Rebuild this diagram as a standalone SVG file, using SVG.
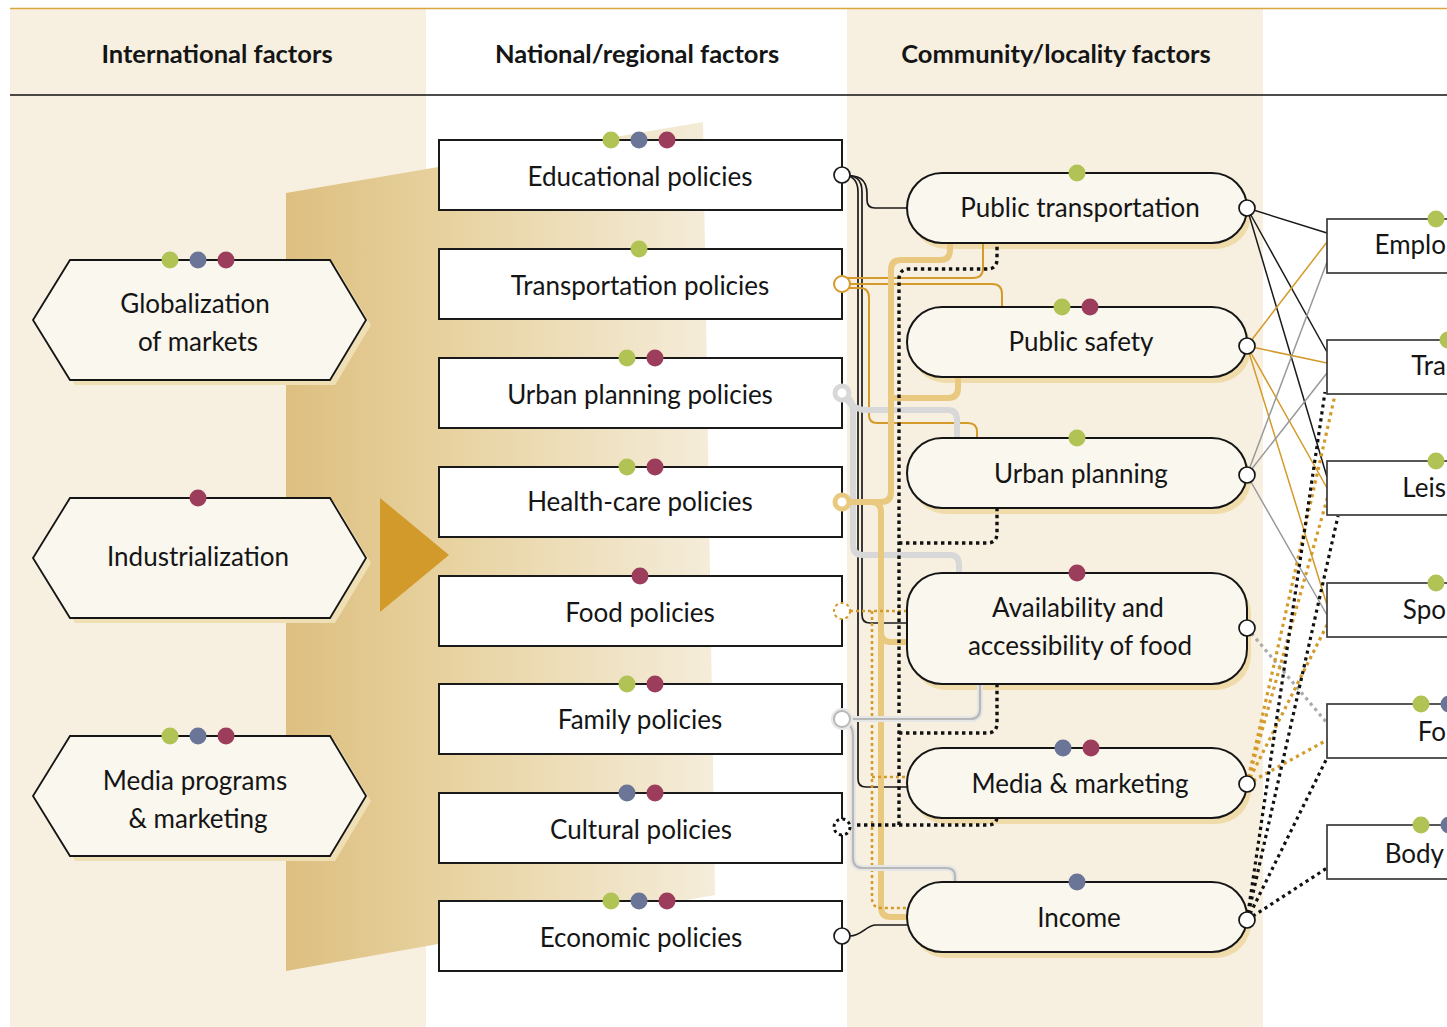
<svg xmlns="http://www.w3.org/2000/svg" width="1447" height="1027" viewBox="0 0 1447 1027">
<defs>
<style>
text{font-family:Lato,"Open Sans","Liberation Sans",sans-serif;fill:#151515;}
.hd{font-size:25.5px;font-weight:bold;text-anchor:middle;}
.lb{font-size:26px;text-anchor:middle;}
.lbs{font-size:26px;text-anchor:end;}
.hex{fill:#faf7ef;stroke:#151515;stroke-width:1.8;}
.hexsh{fill:#efdfb4;}
.nat{fill:#ffffff;stroke:#1a1a1a;stroke-width:2;}
.com{fill:#faf7ef;stroke:#151515;stroke-width:2;}
.comsh{fill:#efdcaa;}
.rbox{fill:#ffffff;stroke:#3a3a3a;stroke-width:1.7;}
.g{fill:#b1c355;}
.b{fill:#6a7597;}
.r{fill:#9c3d5b;}
.c{fill:none;}
.blk{stroke:#1a1a1a;stroke-width:1.7;}
.org{stroke:#d49a2a;stroke-width:2;}
.gry{stroke:#d8d8d8;stroke-width:6;}
.tan{stroke:#e9c97f;stroke-width:6;}
.odot{stroke:#d49a2a;stroke-width:2.5;stroke-dasharray:3 3;}
.kdot{stroke:#111;stroke-width:3.4;stroke-dasharray:3.4 3.6;}
.famh{stroke:#e6e6e6;stroke-width:6;}
.fam{stroke:#b8b8b8;stroke-width:2.2;}
.rk{stroke:#1a1a1a;stroke-width:1.5;}
.ro{stroke:#d49a2a;stroke-width:1.5;}
.rg{stroke:#999;stroke-width:1.5;}
.rgd{stroke:#aaa;stroke-width:3.2;stroke-dasharray:3.2 3.8;}
.rod{stroke:#d49a2a;stroke-width:3.2;stroke-dasharray:3.2 3.8;}
.rkd{stroke:#111;stroke-width:3.2;stroke-dasharray:3.2 3.8;}
.port{fill:#ffffff;}
</style>
<linearGradient id="grad" x1="0" y1="0" x2="1" y2="0">
<stop offset="0" stop-color="#ddbf80"/>
<stop offset="0.4" stop-color="#e8d3a1"/>
<stop offset="1" stop-color="#f5eddb"/>
</linearGradient>
</defs>

<!-- backgrounds -->
<rect x="0" y="0" width="1447" height="1027" fill="#ffffff"/>
<rect x="10" y="8" width="416" height="1019" fill="#f7f0e1"/>
<rect x="847" y="8" width="416" height="1019" fill="#f7f0e1"/>
<line x1="10" y1="8.5" x2="1447" y2="8.5" stroke="#d9a640" stroke-width="1.5"/>
<line x1="10" y1="95" x2="1447" y2="95" stroke="#111" stroke-width="1.5"/>
<polygon points="286,193 703,122 715,895 286,971" fill="url(#grad)"/>
<polygon points="380,498 449,555 380,612" fill="#d19a2a"/>

<text class="hd" x="217" y="63">International factors</text>
<text class="hd" x="637" y="63">National/regional factors</text>
<text class="hd" x="1056" y="63">Community/locality factors</text>

<!-- international nodes -->
<g id="globalization">
<polygon class="hexsh" points="38,325 75,265 335,265 371,325 335,385 75,385"/>
<polygon class="hex" points="33,320 70,260 330,260 366,320 330,380 70,380"/>
<circle class="g" cx="170" cy="260" r="8.5"/><circle class="b" cx="198" cy="260" r="8.5"/><circle class="r" cx="226" cy="260" r="8.5"/>
<text class="lb" x="195" y="313">Globalization</text>
<text class="lb" x="198" y="351">of markets</text>
</g>
<g id="industrialization">
<polygon class="hexsh" points="38,563 75,503 335,503 371,563 335,623 75,623"/>
<polygon class="hex" points="33,558 70,498 330,498 366,558 330,618 70,618"/>
<circle class="r" cx="198" cy="498" r="8.5"/>
<text class="lb" x="198" y="566">Industrialization</text>
</g>
<g id="media-programs">
<polygon class="hexsh" points="38,801 75,741 335,741 371,801 335,861 75,861"/>
<polygon class="hex" points="33,796 70,736 330,736 366,796 330,856 70,856"/>
<circle class="g" cx="170" cy="736" r="8.5"/><circle class="b" cx="198" cy="736" r="8.5"/><circle class="r" cx="226" cy="736" r="8.5"/>
<text class="lb" x="195" y="790">Media programs</text>
<text class="lb" x="198" y="828">&amp; marketing</text>
</g>

<!-- shadows of community nodes -->
<g id="community-shadows">
<rect class="comsh" x="911" y="179" width="340" height="70" rx="35"/>
<rect class="comsh" x="911" y="313" width="340" height="70" rx="35"/>
<rect class="comsh" x="911" y="444" width="340" height="70" rx="35"/>
<rect class="comsh" x="911" y="579" width="340" height="111" rx="35"/>
<rect class="comsh" x="911" y="754" width="340" height="70" rx="35"/>
<rect class="comsh" x="911" y="888" width="340" height="70" rx="35"/>
</g>

<!-- connectors -->
<g id="connectors" class="c">
<!-- educational -->
<path class="c blk" d="M842,175 C858,175 867,178 867,194 V200 Q867,208 875,208 H907"/>
<path class="c blk" d="M842,175 C856,175 862,179 862,192 V615 Q862,623 870,623 H907"/>
<path class="c blk" d="M842,175 C852,175 858,180 858,192 V779 Q858,787 866,787 H907"/>
<!-- transportation policies -->
<path class="c org" d="M846,278 H973 Q983,278 983,268 V243"/>
<path class="c org" d="M846,284 H992 Q1002,284 1002,294 V307"/>
<path class="c org" d="M846,288 H860 Q869,288 869,298 V415 Q869,423 877,423 H968 Q977,423 977,432 V438"/>
<!-- urban planning policies -->
<path class="c gry" d="M842,393 Q852,410 866,410 H948 Q957,410 957,420 V438"/>
<path class="c gry" d="M842,393 Q853,398 853,412 V545 Q853,555 863,555 H950 Q959,555 959,565 V573"/>
<!-- health-care policies -->
<path class="c tan" d="M950,243 V250 Q950,260 940,260 H901 Q891,260 891,270 V492 Q891,502 881,502 H842"/>
<path class="c tan" d="M958,377 V388 Q958,398 948,398 H891"/>
<path class="c tan" d="M842,502 H871 Q881,502 881,512 V907 Q881,917 891,917 H907"/>
<path class="c tan" d="M881,632 Q881,642 891,642 H907"/>
<!-- food policies -->
<path class="c odot" d="M850,611 H907"/>
<path class="c odot" d="M872,611 V898 Q872,908 882,908 H907"/>
<path class="c odot" d="M872,777 H907"/>
<!-- cultural policies -->
<path class="c kdot" d="M850,825 H988 Q997,825 997,816"/>
<path class="c kdot" d="M899,825 V279 Q899,269 909,269 H987 Q997,269 997,259 V243"/>
<path class="c kdot" d="M899,543 H987 Q997,543 997,533 V508"/>
<path class="c kdot" d="M899,733 H987 Q997,733 997,723 V684"/>
<!-- family policies -->
<path class="c famh" d="M850,719 H970 Q980,719 980,709 V684"/>
<path class="c famh" d="M842,719 Q853,724 853,735 V858 Q853,868 863,868 H946 Q955,868 955,876 V882"/>
<path class="c fam" d="M850,719 H970 Q980,719 980,709 V684"/>
<path class="c fam" d="M842,719 Q853,724 853,735 V858 Q853,868 863,868 H946 Q955,868 955,876 V882"/>
<!-- economic policies -->
<path class="c blk" d="M850,936 C862,936 866,925 876,925 H907"/>
<!-- right side -->
<path class="c rk" d="M1247,208 L1327,233 M1247,208 L1327,352 M1247,208 L1327,477"/>
<path class="c ro" d="M1247,346 L1327,242 M1247,346 L1327,363 M1247,346 L1327,488 M1247,346 L1327,605"/>
<path class="c rg" d="M1247,475 L1327,262 M1247,475 L1327,373 M1247,475 L1327,615"/>
<path class="c rgd" d="M1247,628 L1327,723"/>
<path class="c rod" d="M1247,784 L1335,395 M1247,784 L1329,492 M1247,784 L1327,625 M1247,784 L1327,740"/>
<path class="c rkd" d="M1247,920 L1325,392 M1247,920 L1338,516 M1247,920 L1327,758 M1247,920 L1327,868"/>
</g>

<!-- national nodes -->
<g id="educational-policies">
<rect class="nat" x="439" y="140" width="403" height="70"/>
<circle class="g" cx="611" cy="140" r="8.5"/><circle class="b" cx="639" cy="140" r="8.5"/><circle class="r" cx="667" cy="140" r="8.5"/>
<text class="lb" x="640" y="186">Educational policies</text>
<circle class="port" cx="842" cy="175" r="8" stroke="#1a1a1a" stroke-width="1.7"/>
</g>
<g id="transportation-policies">
<rect class="nat" x="439" y="249" width="403" height="70"/>
<circle class="g" cx="639" cy="249" r="8.5"/>
<text class="lb" x="640" y="295">Transportation policies</text>
<circle class="port" cx="842" cy="284" r="8" stroke="#d49a2a" stroke-width="2"/>
</g>
<g id="urban-planning-policies">
<rect class="nat" x="439" y="358" width="403" height="70"/>
<circle class="g" cx="627" cy="358" r="8.5"/><circle class="r" cx="655" cy="358" r="8.5"/>
<text class="lb" x="640" y="404">Urban planning policies</text>
<circle class="port" cx="842" cy="393" r="7" stroke="#d8d8d8" stroke-width="5"/>
</g>
<g id="health-care-policies">
<rect class="nat" x="439" y="467" width="403" height="70"/>
<circle class="g" cx="627" cy="467" r="8.5"/><circle class="r" cx="655" cy="467" r="8.5"/>
<text class="lb" x="640" y="511">Health-care policies</text>
<circle class="port" cx="842" cy="502" r="7" stroke="#e9c97f" stroke-width="5"/>
</g>
<g id="food-policies">
<rect class="nat" x="439" y="576" width="403" height="70"/>
<circle class="r" cx="640" cy="576" r="8.5"/>
<text class="lb" x="640" y="622">Food policies</text>
<circle class="port" cx="842" cy="611" r="8" stroke="#d49a2a" stroke-width="2" stroke-dasharray="3 3"/>
</g>
<g id="family-policies">
<rect class="nat" x="439" y="684" width="403" height="70"/>
<circle class="g" cx="627" cy="684" r="8.5"/><circle class="r" cx="655" cy="684" r="8.5"/>
<text class="lb" x="640" y="729">Family policies</text>
<circle cx="842" cy="719" r="9" fill="none" stroke="#e6e6e6" stroke-width="4"/>
<circle class="port" cx="842" cy="719" r="8" stroke="#b8b8b8" stroke-width="2"/>
</g>
<g id="cultural-policies">
<rect class="nat" x="439" y="793" width="403" height="70"/>
<circle class="b" cx="627" cy="793" r="8.5"/><circle class="r" cx="655" cy="793" r="8.5"/>
<text class="lb" x="641" y="839">Cultural policies</text>
<circle class="port" cx="842" cy="827" r="8" stroke="#111" stroke-width="3" stroke-dasharray="3 3.3"/>
</g>
<g id="economic-policies">
<rect class="nat" x="439" y="901" width="403" height="70"/>
<circle class="g" cx="611" cy="901" r="8.5"/><circle class="b" cx="639" cy="901" r="8.5"/><circle class="r" cx="667" cy="901" r="8.5"/>
<text class="lb" x="641" y="947">Economic policies</text>
<circle class="port" cx="842" cy="936" r="8" stroke="#1a1a1a" stroke-width="1.7"/>
</g>

<!-- community nodes -->
<g id="public-transportation">
<rect class="com" x="907" y="173" width="340" height="70" rx="35"/>
<circle class="g" cx="1077" cy="173" r="8.5"/>
<text class="lb" x="1080" y="217">Public transportation</text>
<circle class="port" cx="1247" cy="208" r="8" stroke="#151515" stroke-width="1.7"/>
</g>
<g id="public-safety">
<rect class="com" x="907" y="307" width="340" height="70" rx="35"/>
<circle class="g" cx="1062" cy="307" r="8.5"/><circle class="r" cx="1090" cy="307" r="8.5"/>
<text class="lb" x="1081" y="351">Public safety</text>
<circle class="port" cx="1247" cy="346" r="8" stroke="#151515" stroke-width="1.7"/>
</g>
<g id="urban-planning">
<rect class="com" x="907" y="438" width="340" height="70" rx="35"/>
<circle class="g" cx="1077" cy="438" r="8.5"/>
<text class="lb" x="1081" y="483">Urban planning</text>
<circle class="port" cx="1247" cy="475" r="8" stroke="#151515" stroke-width="1.7"/>
</g>
<g id="availability-food">
<rect class="com" x="907" y="573" width="340" height="111" rx="35"/>
<circle class="r" cx="1077" cy="573" r="8.5"/>
<text class="lb" x="1078" y="617">Availability and</text>
<text class="lb" x="1080" y="655">accessibility of food</text>
<circle class="port" cx="1247" cy="628" r="8" stroke="#151515" stroke-width="1.7"/>
</g>
<g id="media-marketing">
<rect class="com" x="907" y="748" width="340" height="70" rx="35"/>
<circle class="b" cx="1063" cy="748" r="8.5"/><circle class="r" cx="1091" cy="748" r="8.5"/>
<text class="lb" x="1080" y="793">Media &amp; marketing</text>
<circle class="port" cx="1247" cy="784" r="8" stroke="#151515" stroke-width="1.7"/>
</g>
<g id="income">
<rect class="com" x="907" y="882" width="340" height="70" rx="35"/>
<circle class="b" cx="1077" cy="882" r="8.5"/>
<text class="lb" x="1079" y="927">Income</text>
<circle class="port" cx="1247" cy="920" r="8" stroke="#151515" stroke-width="1.7"/>
</g>

<!-- right-hand nodes (cut off at the picture's edge) -->
<g id="employment">
<rect class="rbox" x="1327" y="219" width="200" height="54"/>
<circle class="g" cx="1436" cy="219" r="8.5"/>
<text class="lbs" x="1446" y="254">Emplo</text>
</g>
<g id="transport">
<rect class="rbox" x="1327" y="340" width="200" height="54"/>
<circle class="g" cx="1448" cy="340" r="8.5"/>
<text class="lbs" x="1446" y="375">Tra</text>
</g>
<g id="leisure">
<rect class="rbox" x="1327" y="461" width="200" height="54"/>
<circle class="g" cx="1436" cy="461" r="8.5"/>
<text class="lbs" x="1446" y="497">Leis</text>
</g>
<g id="sports">
<rect class="rbox" x="1327" y="583" width="200" height="54"/>
<circle class="g" cx="1436" cy="583" r="8.5"/>
<text class="lbs" x="1446" y="619">Spo</text>
</g>
<g id="food">
<rect class="rbox" x="1327" y="704" width="200" height="54"/>
<circle class="g" cx="1421" cy="704" r="8.5"/><circle class="b" cx="1449" cy="704" r="8.5"/>
<text class="lbs" x="1446" y="741">Fo</text>
</g>
<g id="body">
<rect class="rbox" x="1327" y="825" width="200" height="54"/>
<circle class="g" cx="1421" cy="825" r="8.5"/><circle class="b" cx="1449" cy="825" r="8.5"/>
<text class="lbs" x="1444" y="863">Body</text>
</g>
</svg>
